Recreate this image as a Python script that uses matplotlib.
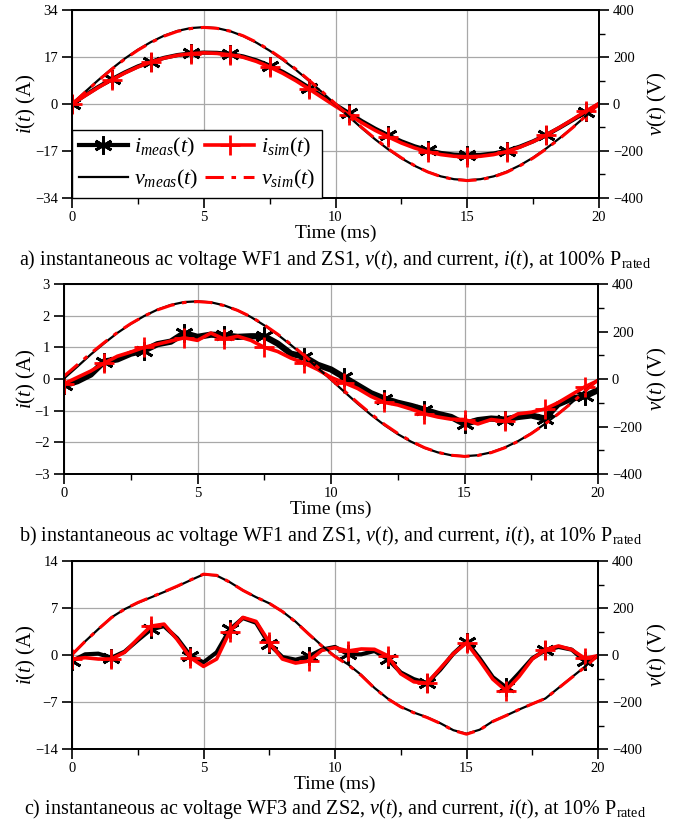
import numpy as np
import matplotlib
matplotlib.use('Agg')
import matplotlib.pyplot as plt
from matplotlib.ticker import MultipleLocator

plt.rcParams['font.family'] = 'Liberation Serif'
plt.rcParams['mathtext.fontset'] = 'custom'
plt.rcParams['mathtext.rm'] = 'Liberation Serif'
plt.rcParams['mathtext.it'] = 'Liberation Serif:italic'

# time base (ms), one sample every 0.5 ms
t = np.array([0, 0.5, 1, 1.5, 2, 2.5, 3, 3.5, 4, 4.5, 5, 5.5, 6, 6.5, 7, 7.5, 8, 8.5, 9, 9.5,
              10, 10.5, 11, 11.5, 12, 12.5, 13, 13.5, 14, 14.5, 15, 15.5, 16, 16.5, 17, 17.5,
              18, 18.5, 19, 19.5, 20])

# a) WF1 / ZS1 at 100% Prated
v_a_meas = [0, 52, 102, 149, 193, 231, 264, 291, 311, 323, 327, 323, 310, 289, 261, 227, 188, 145, 98, 49,
            -2, -53, -103, -150, -193, -231, -263, -289, -308, -320, -324, -320, -308, -288, -261, -228,
            -189, -146, -100, -51, 0]
v_a_sim = [0, 50, 100, 147, 191, 229, 262, 289, 309, 321, 326, 322, 310, 290, 263, 229, 191, 148, 101, 52,
           1, -50, -100, -147, -191, -229, -262, -289, -309, -321, -326, -322, -310, -290, -263, -230,
           -191, -148, -101, -51, 0]
i_a_meas = [0, 3.2, 6.2, 8.9, 11.4, 13.6, 15.3, 16.7, 17.7, 18.3, 18.6, 18.5, 18.1, 17.2, 15.8, 13.9, 11.6,
            8.9, 5.9, 2.8, -0.3, -3.2, -6.2, -8.9, -11.3, -13.5, -15.3, -16.7, -17.7, -18.3, -18.5, -18.4,
            -17.9, -16.9, -15.4, -13.5, -11.2, -8.6, -5.8, -2.9, 0]
i_a_sim = [0, 3.0, 6.0, 8.7, 11.2, 13.4, 15.2, 16.6, 17.6, 18.2, 18.5, 18.3, 17.8, 16.9, 15.4, 13.4, 11.1,
           8.4, 5.4, 2.3, -0.8, -3.8, -6.8, -9.5, -11.9, -14.1, -15.9, -17.3, -18.3, -18.9, -19.1, -18.9,
           -18.3, -17.2, -15.6, -13.6, -11.2, -8.5, -5.6, -2.6, 0.2]

# b) WF1 / ZS1 at 10% Prated
v_b_meas = [2, 52, 103, 150, 194, 232, 265, 292, 312, 324, 327, 323, 310, 289, 261, 226, 187, 143, 96, 47,
            -3, -54, -104, -151, -194, -232, -264, -290, -309, -321, -325, -321, -309, -289, -262, -229,
            -190, -147, -101, -52, -2]
v_b_sim = [12, 60, 108, 153, 196, 233, 265, 291, 310, 322, 326, 322, 309, 289, 262, 228, 189, 146, 99, 50,
           0, -50, -100, -147, -191, -229, -262, -289, -309, -321, -326, -322, -310, -290, -263, -230,
           -191, -148, -102, -53, -4]
i_b_meas = [-0.2, -0.07, 0.14, 0.55, 0.62, 0.8, 0.9, 1.1, 1.18, 1.45, 1.33, 1.4, 1.38, 1.33, 1.35, 1.35,
            1.12, 0.8, 0.7, 0.45, 0.3, 0.05, -0.2, -0.45, -0.62, -0.75, -0.85, -0.97, -1.1, -1.2, -1.42,
            -1.3, -1.25, -1.28, -1.2, -1.15, -1.25, -0.8, -0.62, -0.55, -0.35]
i_b_sim = [-0.15, 0.05, 0.25, 0.5, 0.72, 0.85, 1.0, 1.1, 1.2, 1.3, 1.22, 1.45, 1.26, 1.35, 1.22, 1.0, 0.87,
           0.66, 0.5, 0.3, 0.05, -0.12, -0.3, -0.55, -0.74, -0.82, -0.95, -1.1, -1.2, -1.27, -1.28, -1.42,
           -1.28, -1.33, -1.1, -1.05, -0.95, -0.75, -0.5, -0.25, -0.05]

# c) WF3 / ZS2 at 10% Prated
v_c_meas = [0, 58, 110, 160, 195, 222, 245, 268, 292, 318, 343, 338, 310, 275, 246, 220, 185, 142, 90, 40,
            -5, -40, -85, -140, -185, -220, -245, -265, -290, -320, -335, -318, -282, -258, -232, -208,
            -185, -140, -95, -50, 0]
v_c_sim = [2, 58, 110, 159, 195, 223, 246, 269, 293, 319, 344, 339, 310, 275, 246, 220, 185, 141, 89, 38,
           -7, -42, -87, -141, -186, -221, -246, -266, -291, -321, -337, -319, -283, -258, -232, -208,
           -185, -141, -96, -52, -2]
i_c_meas = [-0.9, 0.1, 0.2, -0.4, 0.5, 2.2, 3.8, 4.3, 2.5, -0.1, -1.1, 0.4, 3.8, 5.5, 4.8, 1.6, -0.3, -0.7,
            -0.2, 0.8, 1.2, 0.1, 0.1, 0.6, -0.6, -2.6, -3.6, -4.2, -2.2, 0.2, 2.0, -0.5, -3.3, -4.8, -2.7,
            -0.5, 0.7, 1.2, 0.8, -0.9, -0.2]
i_c_sim = [-0.6, -0.4, -0.6, -0.6, 0.4, 2.4, 4.3, 4.6, 2.3, -0.4, -1.7, -0.6, 3.5, 5.6, 5.0, 1.9, -0.6, -1.2,
           -0.9, 0.7, 1.1, 0.6, 0.9, 0.85, -0.1, -2.8, -4.0, -4.2, -2.0, 0.2, 1.8, -0.8, -3.6, -5.3, -3.2,
           -0.6, 0.8, 1.35, 0.8, -0.5, -0.1]

captions = [
    r'a) instantaneous ac voltage WF1 and ZS1, $\mathit{v(t)}$, and current, $\mathit{i(t)}$, at 100% P$_{\mathrm{rated}}$',
    r'b) instantaneous ac voltage WF1 and ZS1, $\mathit{v(t)}$, and current, $\mathit{i(t)}$, at 10% P$_{\mathrm{rated}}$',
    r'c) instantaneous ac voltage WF3 and ZS2, $\mathit{v(t)}$, and current, $\mathit{i(t)}$, at 10% P$_{\mathrm{rated}}$',
]
i_lims = [34, 3, 14]
i_steps = [17, 1, 7]

W, H = 699, 822
fig = plt.figure(figsize=(W / 100, H / 100), dpi=100)

# axes boxes in pixels: left, top, right, bottom
boxes = [(72, 10, 599, 198), (64, 284, 598, 474), (72, 561, 598, 749)]
cap_y = [260, 536, 809]

panels = [(v_a_meas, v_a_sim, i_a_meas, i_a_sim, 3.0),
          (v_b_meas, v_b_sim, i_b_meas, i_b_sim, 4.5),
          (v_c_meas, v_c_sim, i_c_meas, i_c_sim, 3.0)]

for k, (vm, vs, im, isim, lw_im) in enumerate(panels):
    l, tp, r, b = boxes[k]
    ax = fig.add_axes([l / W, 1 - b / H, (r - l) / W, (b - tp) / H])
    ax2 = ax.twinx()

    h1, = ax.plot(t, im, color='black', lw=lw_im, marker=(6, 2, 0), ms=13, mew=2.0,
                  markevery=3, label=r'$i_{meas}(t)$', solid_joinstyle='round')
    h2, = ax.plot(t, isim, color='red', lw=2.6, marker='+', ms=14, mew=2.0,
                  markevery=3, label=r'$i_{sim}(t)$', solid_joinstyle='round')
    h3, = ax2.plot(t, vm, color='black', lw=1.6, label=r'$v_{meas}(t)$')
    h4, = ax2.plot(t, vs, color='red', lw=2.2, ls=(0, (6, 2.5, 1.5, 2.5)), label=r'$v_{sim}(t)$')

    lim = i_lims[k]
    ax.set_ylim(-lim, lim)
    ax.yaxis.set_major_locator(MultipleLocator(i_steps[k]))
    ax2.set_ylim(-400, 400)
    ax2.yaxis.set_major_locator(MultipleLocator(200))
    ax2.yaxis.set_minor_locator(MultipleLocator(100))
    ax.set_xlim(0, 20)
    ax.xaxis.set_major_locator(MultipleLocator(5))
    ax.xaxis.set_minor_locator(MultipleLocator(2.5))

    ax.grid(True, which='major', color='#a8a8a8', lw=0.9)
    ax.tick_params(axis='both', which='major', direction='out', length=7, width=1.2, labelsize=10.5, pad=2)
    ax.tick_params(axis='y', which='major', pad=3)
    ax.tick_params(axis='x', which='minor', direction='out', length=4, width=1.0)
    ax2.tick_params(axis='y', which='major', direction='out', length=7, width=1.2, labelsize=10.5, pad=3)
    ax2.tick_params(axis='y', which='minor', direction='out', length=4, width=1.0)
    for a in (ax, ax2):
        for s in a.spines.values():
            s.set_linewidth(1.3)

    ax.set_xlabel('Time (ms)', fontsize=14, labelpad=0)
    ax.xaxis.set_label_coords(0.5, -27 / (b - tp))
    ax.set_ylabel(r'$i(t)$ (A)', fontsize=15)
    ax.yaxis.set_label_coords((38 - l) / (r - l), 0.5)
    ax2.set_ylabel(r'$v(t)$ (V)', fontsize=15)
    ax2.yaxis.set_label_coords((646 - l) / (r - l), 0.5)

    if k == 0:
        leg = ax2.legend(handles=[h1, h3, h2, h4], loc='lower left', bbox_to_anchor=(0, 0),
                         borderaxespad=0, ncol=2, fontsize=16, handlelength=2.2,
                         handletextpad=0.3, columnspacing=0.3, labelspacing=0.4,
                         borderpad=0.3, fancybox=False, framealpha=1, edgecolor='black')
        leg.get_frame().set_linewidth(1.0)

    fig.text(0.5 * (l + r) / W, 1 - cap_y[k] / H, captions[k], fontsize=14.5,
             ha='center', va='center')

fig.savefig('out.png', dpi=100)
